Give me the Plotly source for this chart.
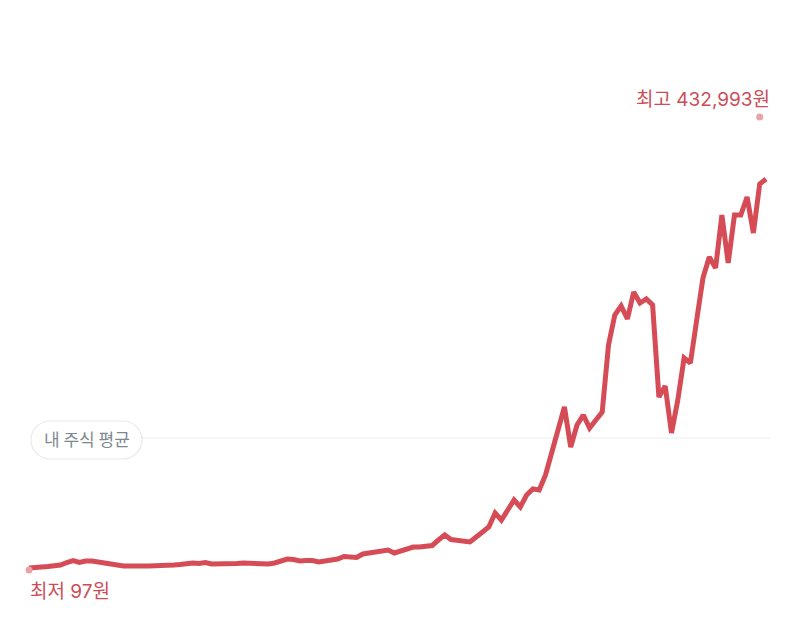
import plotly.graph_objects as go

# closing prices (won), one point per period
prices = [
    2008, 2964, 2964, 3442, 3919, 4875, 7264, 9175, 7264, 8697,
    8697, 7742, 5831, 4875, 4397, 3919, 3919, 3442, 3919, 3919,
    3919, 3919, 4397, 4875, 5353, 6308, 6786, 6308, 7264, 5831,
    5831, 5353, 5831, 6308, 6786, 6308, 5831, 6308, 5831, 6786,
    8697, 10609, 10131, 8697, 9175, 9175, 7742, 8697, 9653, 10609,
    12998, 12998, 12042, 15387, 16342, 16342, 17776, 19209, 16342, 18254,
    20165, 22076, 22076, 22554, 23509, 28765, 33543, 29243, 28287, 27809,
    26854, 31632, 36410, 41188, 54567, 47877, 57434, 66989, 60300, 71767,
    77501, 76545, 90879, 112858, 133881, 155860, 117636, 138659, 148215, 135792,
    143437, 151082, 215107, 243775, 252376, 239953, 265754, 255243, 259065, 253332,
    165416, 175927, 131014, 162549, 202684, 197906, 238997, 279232, 299199, 288687,
    339335, 293465, 339335, 339335, 356536, 322134, 368963, 373741,
]
periods = list(range(len(prices)))

low_value = 97
low_period = 0
high_value = 432993
high_period = 116
my_average = 126236

LINE_RED = "#d64c56"
TEXT_RED = "#cb4d57"
DOT_PINK = "#e9a3a8"
FONT = "Noto Sans CJK KR"
LABEL_FONT = "Inter, Noto Sans CJK KR"

# the page has an 8px body margin, so the figure is a little smaller
OFF = 8
W, H = 800 - 2 * OFF, 640 - 2 * OFF


def px_x(p):
    # page pixel -> paper x
    return (p - OFF) / W


def px_y(p):
    # page pixel -> paper y
    return 1 - (p - OFF) / H


fig = go.Figure()

fig.add_trace(go.Scatter(
    x=periods,
    y=prices,
    mode="lines",
    line=dict(color=LINE_RED, width=5),
    hoverinfo="skip",
))

fig.add_trace(go.Scatter(
    x=[low_period, high_period],
    y=[low_value, high_value],
    mode="markers",
    marker=dict(size=7, color=DOT_PINK, line=dict(width=0)),
    hoverinfo="skip",
))

# average price guide line (starts right of the pill)
fig.add_shape(
    type="line", xref="paper", yref="y",
    x0=px_x(142), x1=px_x(770), y0=my_average, y1=my_average,
    line=dict(color="#eceef1", width=1.2), layer="below",
)

# rounded pill behind "내 주식 평균"
left, right, top, bottom = 31, 142, 421, 459
r = (bottom - top) / 2
k = 0.55 * r


def pt(x, y):
    return f"{px_x(x):.5f},{px_y(y):.5f}"


pill = (
    f"M {pt(left + r, top)} L {pt(right - r, top)} "
    f"C {pt(right - r + k, top)} {pt(right, top + r - k)} {pt(right, top + r)} "
    f"C {pt(right, top + r + k)} {pt(right - r + k, bottom)} {pt(right - r, bottom)} "
    f"L {pt(left + r, bottom)} "
    f"C {pt(left + r - k, bottom)} {pt(left, top + r + k)} {pt(left, top + r)} "
    f"C {pt(left, top + r - k)} {pt(left + r - k, top)} {pt(left + r, top)} Z"
)
fig.add_shape(
    type="path", xref="paper", yref="paper", path=pill,
    fillcolor="white", line=dict(color="#e8eaed", width=1.2),
)

fig.add_annotation(
    xref="paper", yref="y",
    x=px_x((left + right) / 2), y=my_average,
    xanchor="center", yanchor="middle",
    text="내 주식 평균", showarrow=False,
    font=dict(family=FONT, size=17, color="#7f8791"),
)

fig.add_annotation(
    x=high_period, y=high_value,
    text=f"최고 {high_value:,}원", showarrow=False,
    xanchor="right", yanchor="middle", xshift=12, yshift=17,
    font=dict(family=LABEL_FONT, size=19, color=TEXT_RED),
)

fig.add_annotation(
    x=low_period, y=low_value,
    text=f"최저 {low_value}원", showarrow=False,
    xanchor="left", yanchor="middle", xshift=-1, yshift=-21,
    font=dict(family=LABEL_FONT, size=19, color=TEXT_RED),
)

# x: period 0 sits at page px 29, 6.299 px per period
# y: 97 won at page px 570, 955.6 won per px
fig.update_layout(
    width=W, height=H,
    margin=dict(l=0, r=0, t=0, b=0),
    paper_bgcolor="white",
    plot_bgcolor="white",
    showlegend=False,
    xaxis=dict(visible=False, range=[-3.334, 121.13], fixedrange=True),
    yaxis=dict(visible=False, range=[-59150, 537144], fixedrange=True),
)

fig.write_html("out.html")
